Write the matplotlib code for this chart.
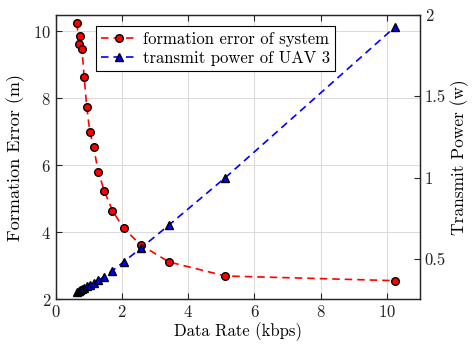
import matplotlib
matplotlib.use("Agg")
import matplotlib.pyplot as plt
from matplotlib.ticker import FormatStrFormatter

# data ------------------------------------------------------------------------
rate = [0.64, 0.683, 0.731, 0.788, 0.853, 0.931, 1.024, 1.138,
        1.28, 1.463, 1.707, 2.048, 2.56, 3.413, 5.12, 10.24]
form_err = [10.24, 9.61, 9.84, 9.45, 8.62, 7.74, 7.00, 6.53,
            5.80, 5.22, 4.64, 4.11, 3.62, 3.11, 2.69, 2.55]
tx_power = [0.298, 0.303, 0.309, 0.316, 0.323, 0.331, 0.340, 0.352,
            0.368, 0.392, 0.428, 0.482, 0.565, 0.708, 1.000, 1.925]

plt.rcParams["font.family"] = "serif"
plt.rcParams["font.serif"] = ["cmr10", "DejaVu Serif"]
plt.rcParams["axes.formatter.use_mathtext"] = True
plt.rcParams["mathtext.fontset"] = "cm"

axc = "#262626"
fig = plt.figure(figsize=(4.74, 3.47), dpi=100)
ax = fig.add_axes([0.118, 0.138, 0.768, 0.819])
ax2 = ax.twinx()

l1, = ax.plot(rate, form_err, "r--", marker="o", ms=5.5, mfc="red",
              mec="black", mew=1.0, lw=1.2, dashes=(4.5, 3),
              label="formation error of system")
l2, = ax2.plot(rate, tx_power, "b--", marker="^", ms=6, mfc="blue",
               mec="black", mew=1.0, lw=1.2, dashes=(4.5, 3),
               label="transmit power of UAV 3")

ax.set_xlim(0, 11)
ax.set_ylim(2, 10.48)
ax2.set_ylim(0.253, 2.0)
ax.set_xticks([0, 2, 4, 6, 8, 10])
ax.set_yticks([2, 4, 6, 8, 10])
ax2.set_yticks([0.5, 1, 1.5, 2])
ax2.yaxis.set_major_formatter(FormatStrFormatter("%g"))

ax.grid(True, color="#dcdcdc", lw=0.8)
ax.set_axisbelow(True)
for a in (ax, ax2):
    for s in a.spines.values():
        s.set_color(axc)
        s.set_linewidth(0.9)
ax.tick_params(direction="in", top=True, right=False, length=4,
               labelsize=12, colors=axc, labelcolor="#222222")
ax2.tick_params(direction="in", length=4, labelsize=12, colors=axc,
                labelcolor="#222222")

ax.set_xlabel("Data Rate (kbps)", fontsize=12, labelpad=2)
ax.set_ylabel("Formation Error (m)", fontsize=13, labelpad=6)
ax2.set_ylabel("Transmit Power (w)", fontsize=12.5, labelpad=3)

leg = ax2.legend([l1, l2], [l1.get_label(), l2.get_label()],
                 loc="upper left", bbox_to_anchor=(0.11, 0.96),
                 fontsize=12, fancybox=False, framealpha=1,
                 edgecolor="black", handlelength=2.2, borderpad=0.3,
                 labelspacing=0.25, handletextpad=0.3, borderaxespad=0)
leg.get_frame().set_linewidth(0.8)

fig.savefig("out.png", dpi=100)
